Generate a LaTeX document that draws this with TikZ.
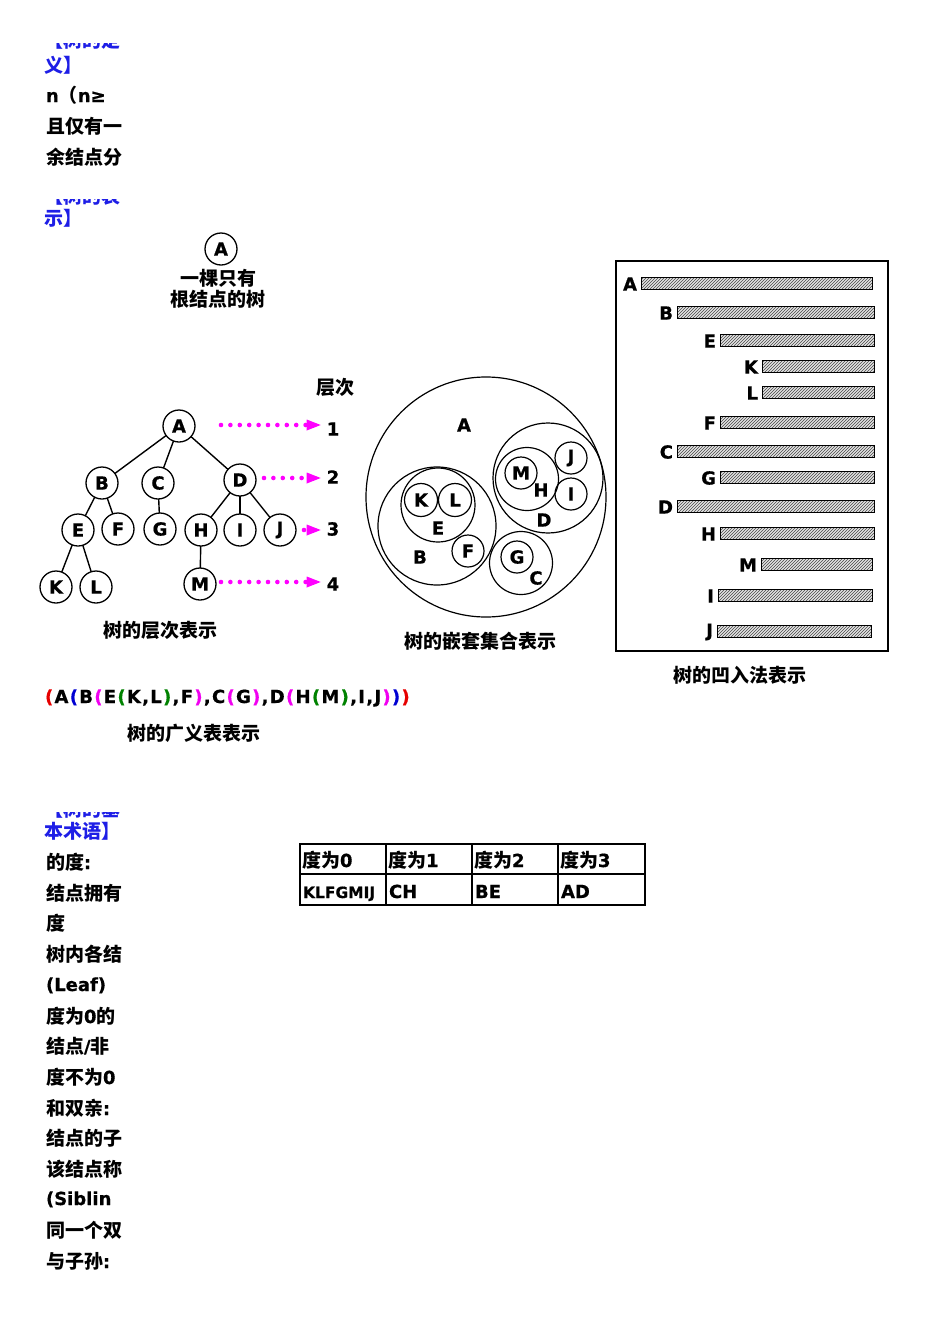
\documentclass[tikz,border=0pt]{standalone}
\usepackage{fontspec}
\setmainfont{DejaVu Sans}[BoldFeatures={FakeBold=0.6}]
\newfontfamily\cjk{Noto Sans CJK SC}
\usetikzlibrary{arrows.meta,patterns}
\newcommand\zh[1]{{\cjk\bfseries\fontsize{19}{21}\selectfont #1}}
\definecolor{hblue}{RGB}{30,30,230}
\definecolor{pred}{RGB}{230,0,0}
\definecolor{pblue}{RGB}{0,0,210}
\definecolor{pmag}{RGB}{240,0,240}
\definecolor{pgreen}{RGB}{0,130,0}
\definecolor{dotmag}{RGB}{255,0,255}
\def\gk{\kern1.3pt}
\def\pR#1{\textcolor{pred}{#1}}
\def\pB#1{\textcolor{pblue}{#1}}
\def\pM#1{\textcolor{pmag}{#1}}
\def\pG#1{\textcolor{pgreen}{#1}}
\begin{document}
\begin{tikzpicture}[x=1pt,y=-1pt,
  every node/.style={inner sep=0pt,outer sep=0pt},
  lat/.style={font=\bfseries\fontsize{18}{20}\selectfont},
  txtline/.style={anchor=base west,font=\bfseries\fontsize{18}{20}\selectfont},
  head/.style={anchor=base west,text=hblue,font=\bfseries\fontsize{18}{20}\selectfont},
  captxt/.style={font=\cjk\bfseries\fontsize{19}{21}\selectfont},
  vert/.style={circle,draw,line width=1.3pt,minimum size=32pt,font=\bfseries\fontsize{18}{20}\selectfont},
  tedge/.style={line width=1.4pt},
  dotarrow/.style={dotmag,line width=4.6pt,line cap=round,dash pattern=on 0pt off 9.4pt,
     -{Triangle[length=14pt,width=11pt,line width=0pt]}},
  setcirc/.style={line width=1.2pt},
  barbox/.style={draw,line width=0.9pt,preaction={fill=gray!20},pattern=north east lines,pattern color=gray!55!black},
  blab/.style={anchor=east,font=\bfseries\fontsize{18}{20}\selectfont},
  celltxt/.style={anchor=base west,font=\bfseries\fontsize{18}{20}\selectfont}]
\useasboundingbox (0,0) rectangle (950,1344);

% ---------- left text column ----------
\begin{scope}
\clip (40,43) rectangle (140,52);
\node[head] (f1) at (44,47) {\zh{【树的定}};
\end{scope}
\node[head] (h1) at (44,72) {\zh{义】}};
\node[txtline] (t1) at (46,102) {n\zh{（}n≥};
\node[txtline] (t2) at (46,133) {\zh{且仅有一}};
\node[txtline] (t3) at (46,164) {\zh{余结点分}};
\begin{scope}
\clip (40,199) rectangle (140,208);
\node[head] (f2) at (44,203) {\zh{【树的表}};
\end{scope}
\node[head] (h2) at (44,225) {\zh{示】}};

% ---------- single node tree ----------
\node[vert] (A0) at (221,249) {A};
\node[captxt,align=center] (c0) at (218,289) {一棵只有\\[0pt]根结点的树};

% ---------- level tree ----------
\node[captxt] (lv) at (335,387) {层次};
\node[vert] (A) at (179,426) {A};
\node[vert] (B) at (102,483) {B};
\node[vert] (C) at (158,483) {C};
\node[vert] (D) at (240,480) {D};
\node[vert] (E) at (78,530) {E};
\node[vert] (F) at (118,529) {F};
\node[vert] (G) at (160,529) {G};
\node[vert] (H) at (201,530) {H};
\node[vert] (I) at (240,530) {I};
\node[vert] (J) at (280,530) {J};
\node[vert] (K) at (56,587) {K};
\node[vert] (L) at (96,587) {L};
\node[vert] (M) at (200,584) {M};
\foreach \a/\b in {A/B,A/C,A/D,B/E,B/F,C/G,D/H,D/I,D/J,E/K,E/L,H/M}
  \draw[tedge] (\a) -- (\b);
\node[lat] (n1) at (333,429) {1};
\node[lat] (n2) at (333,477) {2};
\node[lat] (n3) at (333,529) {3};
\node[lat] (n4) at (333,584) {4};
\coordinate (s1) at (221,425);
\coordinate (s2) at (264,478);
\coordinate (s3) at (304,530);
\coordinate (s4) at (221,582);
\draw[dotarrow] (s1) -- ([xshift=-6pt]n1.west|-s1);
\draw[dotarrow] (s2) -- ([xshift=-6pt]n2.west|-s2);
\draw[dotarrow] (s3) -- ([xshift=-6pt]n3.west|-s3);
\draw[dotarrow] (s4) -- ([xshift=-6pt]n4.west|-s4);
\node[captxt] (c1) at (160,630) {树的层次表示};

% ---------- nested sets ----------
\draw[setcirc] (486,497) circle (120);
\draw[setcirc] (437,526) circle (59);
\draw[setcirc] (438,505) circle (37);
\draw[setcirc] (421,500) circle (16.5);
\draw[setcirc] (455,500) circle (16.5);
\draw[setcirc] (468,551) circle (16);
\draw[setcirc] (548,478) circle (55);
\draw[setcirc] (527,479) circle (31.5);
\draw[setcirc] (521,473) circle (16);
\draw[setcirc] (571,458) circle (16);
\draw[setcirc] (571,494) circle (16);
\draw[setcirc] (521,563) circle (31.5);
\draw[setcirc] (517,557) circle (16);
\node[lat] (sA) at (464,425) {A};
\node[lat] (sB) at (420,557) {B};
\node[lat] (sE) at (438,528) {E};
\node[lat] (sK) at (421,500) {K};
\node[lat] (sL) at (455,500) {L};
\node[lat] (sF) at (468,551) {F};
\node[lat] (sD) at (544,520) {D};
\node[lat] (sH) at (541,490) {H};
\node[lat] (sM) at (521,473) {M};
\node[lat] (sJ) at (571,458) {J};
\node[lat] (sI) at (571,494) {I};
\node[lat] (sC) at (536,578) {C};
\node[lat] (sG) at (517,557) {G};
\node[captxt] (c2) at (480,641) {树的嵌套集合表示};

% ---------- indentation ----------
\draw[line width=1.2pt] (616,261) rectangle (888,651);
\foreach \l/\xa/\xb/\y in {A/641/872/283, B/677/874/312, E/720/874/340, K/762/874/366,
   L/762/874/392, F/720/874/422, C/677/874/451, G/720/874/477, D/677/874/506,
   H/720/874/533, M/761/872/564, I/718/872/595, J/717/871/631}{
  \draw[barbox] (\xa,\y-6) rectangle (\xb,\y+6);
  \node[blab] (r\l) at (\xa-4,\y+1) {\l};
}
\node[captxt] (c3) at (740,675) {树的凹入法表示};

% ---------- generalized list ----------
\node[anchor=base west,font=\bfseries\fontsize{18}{20}\selectfont] (gl) at (45,703)
 {\pR(\gk A\gk\pB(\gk B\gk\pM(\gk E\gk\pG(\gk K\gk,\gk L\gk\pG)\gk,\gk F\gk\pM)\gk,\gk C\gk\pM(\gk G\gk\pM)\gk,\gk D\gk\pM(\gk H\gk\pG(\gk M\gk\pG)\gk,\gk I\gk,\gk J\gk\pM)\gk\pB)\gk\pR)};
\node[captxt] (c4) at (194,733) {树的广义表表示};

% ---------- terms ----------
\begin{scope}
\clip (40,812) rectangle (140,821);
\node[head] (f3) at (44,816) {\zh{【树的基}};
\end{scope}
\node[head] (h3) at (44,838) {\zh{本术语】}};
\node[txtline] (u1) at (46,869) {\zh{的度}:};
\node[txtline] (u2) at (46,900) {\zh{结点拥有}};
\node[txtline] (u3) at (46,930) {\zh{度}};
\node[txtline] (u4) at (46,961) {\zh{树内各结}};
\node[txtline] (u5) at (46,991) {(Leaf)};
\node[txtline] (u6) at (46,1023) {\zh{度为}0\zh{的}};
\node[txtline] (u7) at (46,1053) {\zh{结点}/\zh{非}};
\node[txtline] (u8) at (46,1084) {\zh{度不为}0};
\node[txtline] (u9) at (46,1115) {\zh{和双亲}:};
\node[txtline] (u10) at (46,1145) {\zh{结点的子}};
\node[txtline] (u11) at (46,1176) {\zh{该结点称}};
\node[txtline] (u12) at (46,1205) {(Siblin};
\node[txtline] (u13) at (46,1237) {\zh{同一个双}};
\node[txtline] (u14) at (46,1268) {\zh{与子孙}:};

% ---------- table ----------
\draw[line width=1.2pt] (300,844) rectangle (645,905);
\draw[line width=1.2pt] (300,874) -- (645,874);
\foreach \x in {386,472,558} \draw[line width=1.2pt] (\x,844) -- (\x,905);
\node[celltxt] (d0) at (302,867) {\zh{度为}0};
\node[celltxt] (d1) at (388,867) {\zh{度为}1};
\node[celltxt] (d2) at (474,867) {\zh{度为}2};
\node[celltxt] (d3) at (560,867) {\zh{度为}3};
\node[celltxt,font=\bfseries\fontsize{15.5}{17}\selectfont] (e0) at (303,898) {KLFGMIJ};
\node[celltxt] (e1) at (389,898) {CH};
\node[celltxt] (e2) at (475,898) {BE};
\node[celltxt] (e3) at (561,898) {AD};
\end{tikzpicture}
\end{document}
